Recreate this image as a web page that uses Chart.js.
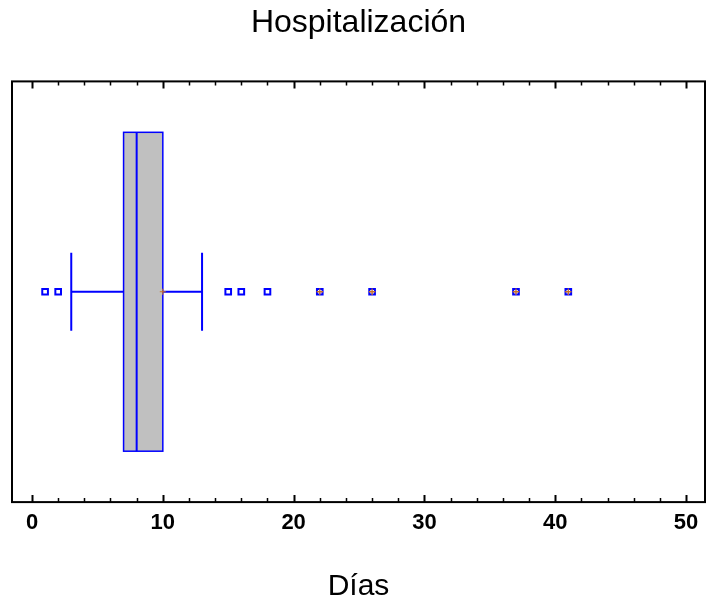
<!DOCTYPE html>
<html>
<head>
<meta charset="utf-8">
<script src="https://cdn.jsdelivr.net/npm/chart.js@4"></script>
<style>
  html, body { margin: 0; padding: 0; background: #fff; overflow: hidden; }
  #wrap { width: 706px; height: 606px; }
  canvas { display: block; }
</style>
</head>
<body>
<div id="wrap"><canvas id="boxChart"></canvas></div>
<script>
// Box-and-whisker summary for hospital stay (days)
const statNames = ['min', 'q1', 'median', 'q3', 'max'];
const statValues = [3, 7, 8, 10, 13];
const meanValue = [10];
const outliers = [1, 2, 15, 16, 18, 22, 26, 37, 41];
const farOutliers = [22, 26, 37, 41];
const majorTicks = [0, 10, 20, 30, 40, 50];
const minorTicks = [2, 4, 6, 8, 12, 14, 16, 18, 22, 24, 26, 28, 32, 34, 36, 38, 42, 44, 46, 48];

const stat = {};
statNames.forEach((n, i) => { stat[n] = statValues[i]; });

// vertical layout of the box in y-scale units (0..1)
const ROW = 0.5;
const BOX_HALF = 0.379;
const CAP_HALF = 0.0925;
const BLUE = '#0000ff';
const ORANGE = '#c8702a';

const boxPlugin = {
  id: 'boxPlot',
  beforeDatasetsDraw(chart) {
    const ctx = chart.ctx;
    const x = chart.scales.x;
    const y = chart.scales.y;
    const yc = y.getPixelForValue(ROW);
    const yTop = y.getPixelForValue(ROW + BOX_HALF);
    const yBot = y.getPixelForValue(ROW - BOX_HALF);
    const cTop = y.getPixelForValue(ROW + CAP_HALF);
    const cBot = y.getPixelForValue(ROW - CAP_HALF);
    const px = v => x.getPixelForValue(v);

    ctx.save();
    ctx.strokeStyle = BLUE;
    // whiskers
    ctx.lineWidth = 2;
    ctx.beginPath();
    ctx.moveTo(px(stat.min), yc); ctx.lineTo(px(stat.q1), yc);
    ctx.moveTo(px(stat.q3), yc); ctx.lineTo(px(stat.max), yc);
    ctx.moveTo(px(stat.min), cTop); ctx.lineTo(px(stat.min), cBot);
    ctx.moveTo(px(stat.max), cTop); ctx.lineTo(px(stat.max), cBot);
    ctx.stroke();
    // box
    ctx.fillStyle = '#c0c0c0';
    ctx.fillRect(px(stat.q1), yTop, px(stat.q3) - px(stat.q1), yBot - yTop);
    ctx.lineWidth = 1.5;
    ctx.strokeRect(px(stat.q1), yTop, px(stat.q3) - px(stat.q1), yBot - yTop);
    // median
    ctx.lineWidth = 2;
    ctx.beginPath();
    ctx.moveTo(px(stat.median), yTop); ctx.lineTo(px(stat.median), yBot);
    ctx.stroke();
    ctx.restore();
  },
  afterDraw(chart) {
    const ctx = chart.ctx;
    const a = chart.chartArea;
    const x = chart.scales.x;
    ctx.save();
    ctx.strokeStyle = '#000';
    ctx.lineWidth = 2;
    ctx.strokeRect(a.left, a.top, a.right - a.left, a.bottom - a.top);
    // inward ticks top and bottom
    const drawTicks = (vals, len) => {
      ctx.beginPath();
      vals.forEach(v => {
        const p = Math.round(x.getPixelForValue(v)) + 0.5;
        ctx.moveTo(p, a.top); ctx.lineTo(p, a.top + len);
        ctx.moveTo(p, a.bottom); ctx.lineTo(p, a.bottom - len);
      });
      ctx.stroke();
    };
    ctx.lineWidth = 2;
    drawTicks(majorTicks, 7);
    ctx.lineWidth = 1.5;
    drawTicks(minorTicks, 4);
    ctx.restore();
  }
};

const ctx = document.getElementById('boxChart').getContext('2d');

new Chart(ctx, {
  type: 'scatter',
  data: {
    datasets: [
      {
        label: 'Atípicos',
        data: outliers.map(v => ({ x: v, y: ROW })),
        order: 2,
        pointStyle: 'rect',
        pointRadius: 4,
        pointHoverRadius: 4,
        borderColor: BLUE,
        backgroundColor: '#fff',
        pointBorderWidth: 2
      },
      {
        label: 'Atípicos lejanos',
        data: farOutliers.map(v => ({ x: v, y: ROW })),
        order: 1,
        pointStyle: 'cross',
        pointRadius: 3.2,
        borderColor: ORANGE,
        pointBorderWidth: 1.3
      },
      {
        label: 'Media',
        data: meanValue.map(v => ({ x: v, y: ROW })),
        order: 1,
        pointStyle: 'cross',
        pointRadius: 3,
        borderColor: ORANGE,
        pointBorderWidth: 1.2
      }
    ]
  },
  options: {
    responsive: true,
    maintainAspectRatio: false,
    animation: false,
    layout: { autoPadding: false, padding: { left: 12, right: 1, top: 0, bottom: 0 } },
    plugins: {
      legend: { display: false },
      tooltip: { enabled: false },
      title: {
        display: true,
        text: 'Hospitalización',
        color: '#000',
        font: { family: '"Liberation Sans", Arial, sans-serif', size: 32, weight: 'normal' },
        padding: { top: 4, bottom: 39 }
      }
    },
    scales: {
      x: {
        type: 'linear',
        min: -1.53,
        max: 51.45,
        afterBuildTicks: scale => { scale.ticks = majorTicks.map(v => ({ value: v })); },
        afterFit: scale => { scale.paddingLeft = 0; scale.paddingRight = 0; },
        grid: { display: false, drawTicks: false },
        border: { display: false },
        ticks: {
          color: '#000',
          padding: 8,
          maxRotation: 0,
          font: { family: '"Liberation Sans", Arial, sans-serif', size: 22, weight: 'bold' }
        },
        title: {
          display: true,
          text: 'Días',
          color: '#000',
          font: { family: '"Liberation Sans", Arial, sans-serif', size: 30, weight: 'normal' },
          padding: { top: 24, bottom: 1.5 }
        }
      },
      y: {
        display: false,
        min: 0,
        max: 1
      }
    }
  },
  plugins: [boxPlugin]
});
</script>
</body>
</html>
